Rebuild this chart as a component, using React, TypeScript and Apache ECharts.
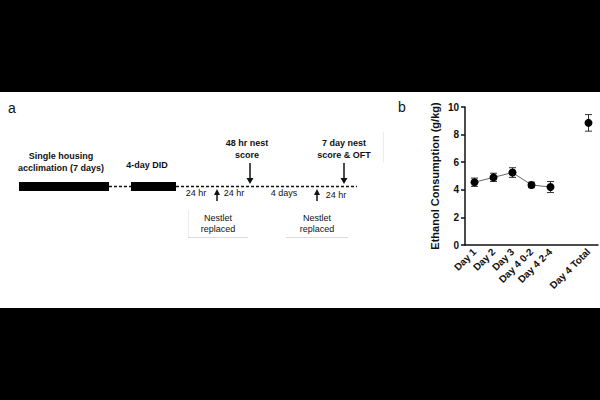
import React, { useEffect, useRef } from "react";
import * as echarts from "echarts";

const categories = ["Day 1", "Day 2", "Day 3", "Day 4 0-2", "Day 4 2-4", "", "Day 4 Total"];
const meanValues: (number | null)[] = [4.55, 4.9, 5.25, 4.35, 4.2, null, 8.85];
const errLow: (number | null)[] = [4.25, 4.6, 4.9, 4.15, 3.8, null, 8.25];
const errHigh: (number | null)[] = [4.85, 5.2, 5.6, 4.55, 4.6, null, 9.45];
const yTicks = { min: 0, max: 10, interval: 2 };

const FONT = "Liberation Sans, Arial, sans-serif";

function txt(text: string, x: number, y: number, bold: boolean, align = "center", size = 9) {
  return {
    type: "text",
    x,
    y,
    style: {
      text,
      fill: "#111",
      font: `${bold ? "bold " : ""}${size}px ${FONT}`,
      align,
      verticalAlign: "middle",
    },
  };
}

function downArrow(x: number, top: number, tip: number) {
  return [
    { type: "line", shape: { x1: x, y1: top, x2: x, y2: tip - 4 }, style: { stroke: "#111", lineWidth: 1.5 } },
    { type: "polygon", shape: { points: [[x - 3.5, tip - 6], [x + 3.5, tip - 6], [x, tip]] }, style: { fill: "#111" } },
  ];
}
function upArrow(x: number, tip: number, bottom: number) {
  return [
    { type: "line", shape: { x1: x, y1: tip + 4, x2: x, y2: bottom }, style: { stroke: "#111", lineWidth: 1.5 } },
    { type: "polygon", shape: { points: [[x - 3, tip + 6], [x + 3, tip + 6], [x, tip]] }, style: { fill: "#111" } },
  ];
}

export default function App() {
  const ref = useRef<HTMLDivElement>(null);
  useEffect(() => {
    if (!ref.current) return;
    const chart = echarts.init(ref.current, null, { renderer: "svg" });
    const errData = categories.map((_, i) => [i, errLow[i], errHigh[i]]).filter((d) => d[1] != null);
    const dash = { stroke: "#111", lineWidth: 1.5, lineDash: [3, 2] };
    const graphic: any[] = [
      { type: "rect", shape: { x: 0, y: 0, width: 600, height: 92 }, style: { fill: "#000" } },
      { type: "rect", shape: { x: 0, y: 308, width: 600, height: 92 }, style: { fill: "#000" } },
      txt("a", 12, 108, false, "center", 14),
      txt("b", 402, 107, false, "center", 14),
      { type: "rect", shape: { x: 19, y: 182, width: 90, height: 9 }, style: { fill: "#000" } },
      { type: "rect", shape: { x: 131, y: 182, width: 45, height: 9 }, style: { fill: "#000" } },
      { type: "line", shape: { x1: 109, y1: 186.5, x2: 131, y2: 186.5 }, style: dash },
      { type: "line", shape: { x1: 176, y1: 186.5, x2: 357, y2: 186.5 }, style: dash },
      txt("Single housing", 61, 156, true),
      txt("acclimation (7 days)", 61, 168, true),
      txt("4-day DID", 147, 165, true),
      txt("48 hr nest", 247, 143, true),
      txt("score", 247, 155, true),
      txt("7 day nest", 344, 143, true),
      txt("score & OFT", 344, 155, true),
      ...downArrow(250, 163, 184),
      ...downArrow(344, 163, 184),
      ...upArrow(217, 189, 201),
      ...upArrow(317, 189, 201),
      txt("24 hr", 196, 193, false),
      txt("24 hr", 234, 193, false),
      txt("4 days", 284, 193, false),
      txt("24 hr", 336, 195, false),
      txt("Nestlet", 218, 218, false),
      txt("replaced", 218, 229, false),
      txt("Nestlet", 317, 218, false),
      txt("replaced", 317, 229, false),
      { type: "line", shape: { x1: 188, y1: 237.5, x2: 248, y2: 237.5 }, style: { stroke: "#dcdcdc", lineWidth: 1 } },
      { type: "line", shape: { x1: 286, y1: 237.5, x2: 348, y2: 237.5 }, style: { stroke: "#dcdcdc", lineWidth: 1 } },
      { type: "line", shape: { x1: 188.5, y1: 210, x2: 188.5, y2: 237 }, style: { stroke: "#ececec", lineWidth: 1 } },
      { type: "line", shape: { x1: 383.5, y1: 132, x2: 383.5, y2: 162 }, style: { stroke: "#ececec", lineWidth: 1 } },
    ];
    chart.setOption({
      animation: false,
      backgroundColor: "#fff",
      graphic,
      grid: { left: 465, right: 2, top: 107, bottom: 155, containLabel: false },
      xAxis: {
        type: "category",
        data: categories,
        boundaryGap: true,
        axisLine: { lineStyle: { color: "#111", width: 1.5 } },
        axisTick: {
          alignWithLabel: true,
          length: 5,
          lineStyle: { color: "#111", width: 1.5 },
          interval: (i: number, v: string) => v !== "",
        },
        axisLabel: {
          interval: 0,
          rotate: 45,
          margin: 5,
          color: "#111",
          fontFamily: FONT,
          fontWeight: "bold",
          fontSize: 10,
        },
        splitLine: { show: false },
      },
      yAxis: {
        type: "value",
        min: yTicks.min,
        max: yTicks.max,
        interval: yTicks.interval,
        name: "Ethanol Consumption (g/kg)",
        nameLocation: "middle",
        nameGap: 25,
        nameTextStyle: { color: "#111", fontFamily: FONT, fontWeight: "bold", fontSize: 11 },
        axisLine: { show: true, lineStyle: { color: "#111", width: 1.5 } },
        axisTick: { show: true, length: 4, lineStyle: { color: "#111", width: 1.5 } },
        axisLabel: { margin: 6, color: "#111", fontFamily: FONT, fontWeight: "bold", fontSize: 10 },
        splitLine: { show: false },
      },
      series: [
        {
          type: "line",
          data: meanValues,
          connectNulls: false,
          symbol: "circle",
          symbolSize: 8,
          itemStyle: { color: "#000" },
          lineStyle: { color: "#666", width: 1 },
          z: 3,
        },
        {
          type: "custom",
          data: errData,
          z: 2,
          renderItem: (params: any, api: any) => {
            const x = api.value(0);
            const lo = api.coord([x, api.value(1)]);
            const hi = api.coord([x, api.value(2)]);
            const w = 3.5;
            const st = { stroke: "#333", lineWidth: 1 };
            return {
              type: "group",
              children: [
                { type: "line", shape: { x1: lo[0], y1: lo[1], x2: hi[0], y2: hi[1] }, style: st },
                { type: "line", shape: { x1: lo[0] - w, y1: lo[1], x2: lo[0] + w, y2: lo[1] }, style: st },
                { type: "line", shape: { x1: hi[0] - w, y1: hi[1], x2: hi[0] + w, y2: hi[1] }, style: st },
              ],
            };
          },
        },
      ],
    });
    return () => chart.dispose();
  }, []);
  return <div ref={ref} style={{ position: "absolute", left: 0, top: 0, width: 600, height: 400 }} />;
}
